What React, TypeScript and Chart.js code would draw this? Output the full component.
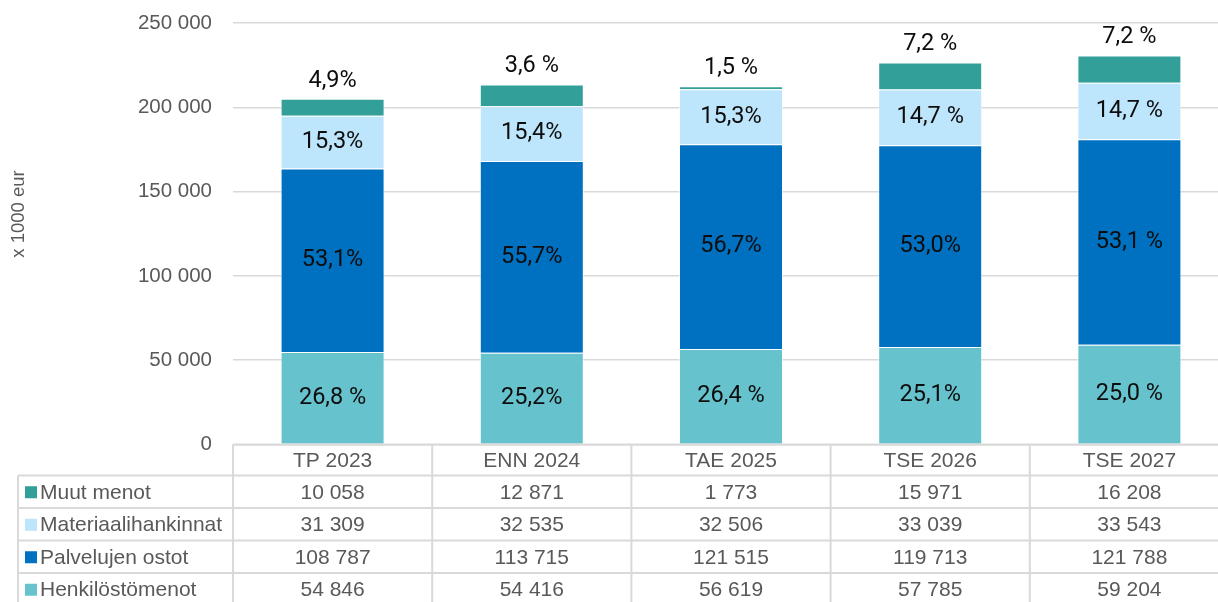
import React, { useEffect, useRef } from "react";
import { Chart, registerables } from "chart.js";

Chart.register(...registerables);

const categories = ["TP 2023", "ENN 2024", "TAE 2025", "TSE 2026", "TSE 2027"];
const henkilostomenot = [54846, 54416, 56619, 57785, 59204];
const palvelujenOstot = [108787, 113715, 121515, 119713, 121788];
const materiaalihankinnat = [31309, 32535, 32506, 33039, 33543];
const muutMenot = [10058, 12871, 1773, 15971, 16208];

const henkLabels = ["26,8 %", "25,2%", "26,4 %", "25,1%", "25,0 %"];
const palvLabels = ["53,1%", "55,7%", "56,7%", "53,0%", "53,1 %"];
const matLabels = ["15,3%", "15,4%", "15,3%", "14,7 %", "14,7 %"];
const muutLabels = ["4,9%", "3,6 %", "1,5 %", "7,2 %", "7,2 %"];

const yMax = 250000;
const yStep = 50000;
const yTitle = "x 1000 eur";

const COLORS = {
  muut: "#339F99",
  mat: "#BDE5FB",
  palv: "#0070C0",
  henk: "#66C3CD",
};

const fmt = (n: number) => String(n).replace(/\B(?=(\d{3})+(?!\d))/g, " ");

const seriesInfo = [
  { label: "Henkilöstömenot", data: henkilostomenot, color: COLORS.henk, labels: henkLabels },
  { label: "Palvelujen ostot", data: palvelujenOstot, color: COLORS.palv, labels: palvLabels },
  { label: "Materiaalihankinnat", data: materiaalihankinnat, color: COLORS.mat, labels: matLabels },
  { label: "Muut menot", data: muutMenot, color: COLORS.muut, labels: muutLabels },
];

const GRAY = "#595959";
const LINE = "#D9D9D9";
const FONT = "'Liberation Sans', Arial, sans-serif";

const overlayPlugin = {
  id: "overlay",
  afterDatasetsDraw(chart: any) {
    const ctx = chart.ctx;
    ctx.save();
    ctx.font = "23.5px Roboto";
    ctx.fillStyle = "#0d0d0d";
    ctx.textAlign = "center";
    ctx.textBaseline = "middle";
    seriesInfo.forEach((s, di) => {
      const meta = chart.getDatasetMeta(di);
      meta.data.forEach((bar: any, i: number) => {
        const isTop = di === seriesInfo.length - 1;
        const y = isTop ? bar.y - 18 : (bar.y + bar.base) / 2;
        ctx.fillText(s.labels[i], bar.x, y);
      });
    });
    ctx.restore();
  },
  afterDraw(chart: any) {
    const ctx = chart.ctx;
    const ca = chart.chartArea;
    const xs = chart.scales.x;
    const ys = chart.scales.y;
    const n = categories.length;
    const colW = (ca.right - ca.left) / n;
    const headerTop = ca.bottom;
    const headerH = 31;
    const rowH = 32.5;
    const tableLeft = 18;
    const rows = [...seriesInfo].reverse();
    const bottom = headerTop + headerH + rowH * rows.length;

    ctx.save();
    // y tick labels
    ctx.font = `20.5px ${FONT}`;
    ctx.fillStyle = GRAY;
    ctx.textAlign = "right";
    ctx.textBaseline = "middle";
    ys.ticks.forEach((t: any) => {
      ctx.fillText(fmt(t.value), ca.left - 21, ys.getPixelForValue(t.value));
    });

    ctx.strokeStyle = LINE;
    ctx.lineWidth = 2;
    ctx.beginPath();
    ctx.moveTo(ca.left, headerTop);
    ctx.lineTo(ca.right, headerTop);
    for (let r = 0; r <= rows.length; r++) {
      const y = headerTop + headerH + r * rowH;
      ctx.moveTo(tableLeft, y);
      ctx.lineTo(ca.right, y);
    }
    for (let c = 0; c <= n; c++) {
      const x = ca.left + c * colW;
      ctx.moveTo(x, headerTop);
      ctx.lineTo(x, bottom);
    }
    ctx.moveTo(tableLeft, headerTop + headerH);
    ctx.lineTo(tableLeft, bottom);
    ctx.stroke();

    ctx.font = `21px ${FONT}`;
    ctx.fillStyle = GRAY;
    ctx.textBaseline = "middle";
    ctx.textAlign = "center";
    categories.forEach((c, i) => {
      ctx.fillText(c, xs.getPixelForValue(i), headerTop + headerH / 2 + 1);
    });
    rows.forEach((s, r) => {
      const yc = headerTop + headerH + r * rowH + rowH / 2 + 1;
      ctx.textAlign = "center";
      ctx.fillStyle = GRAY;
      s.data.forEach((v, i) => {
        ctx.fillText(fmt(v), xs.getPixelForValue(i), yc);
      });
      ctx.fillStyle = s.color;
      ctx.fillRect(25, yc - 6.5, 12, 12);
      ctx.fillStyle = GRAY;
      ctx.textAlign = "left";
      ctx.fillText(s.label, 40, yc);
    });

    ctx.translate(19, 214);
    ctx.rotate(-Math.PI / 2);
    ctx.textAlign = "center";
    ctx.font = `18.5px ${FONT}`;
    ctx.fillStyle = GRAY;
    ctx.fillText(yTitle, 0, 0);
    ctx.restore();
  },
};

export default function App() {
  const ref = useRef<HTMLCanvasElement | null>(null);

  useEffect(() => {
    document.body.style.margin = "0";
    document.documentElement.style.overflow = "hidden";
    const canvas = ref.current;
    if (!canvas) return;
    const chart = new Chart(canvas, {
      type: "bar",
      data: {
        labels: categories,
        datasets: seriesInfo.map((s) => ({
          label: s.label,
          data: s.data,
          backgroundColor: s.color,
          borderColor: "rgba(255,255,255,0.6)",
          borderWidth: 1,
          categoryPercentage: 1,
          barPercentage: 0.522,
        })),
      },
      options: {
        animation: false,
        responsive: false,
        devicePixelRatio: 1,
        layout: { padding: { top: 23, right: 1, bottom: 157.5, left: 0 } },
        plugins: {
          legend: { display: false },
          tooltip: { enabled: false },
        },
        scales: {
          x: {
            stacked: true,
            display: false,
          },
          y: {
            stacked: true,
            min: 0,
            max: yMax,
            border: { display: false },
            grid: { color: LINE, lineWidth: 1.5, drawTicks: false },
            ticks: {
              stepSize: yStep,
              display: false,
            },
            afterFit: (scale: any) => {
              scale.width = 233;
            },
          },
        },
      },
      plugins: [overlayPlugin],
    });
    return () => chart.destroy();
  }, []);

  return (
    <div style={{ position: "relative", width: 1230, height: 602 }}>
      <canvas ref={ref} width={1230} height={602} style={{ width: 1230, height: 602, display: "block" }} />
    </div>
  );
}
